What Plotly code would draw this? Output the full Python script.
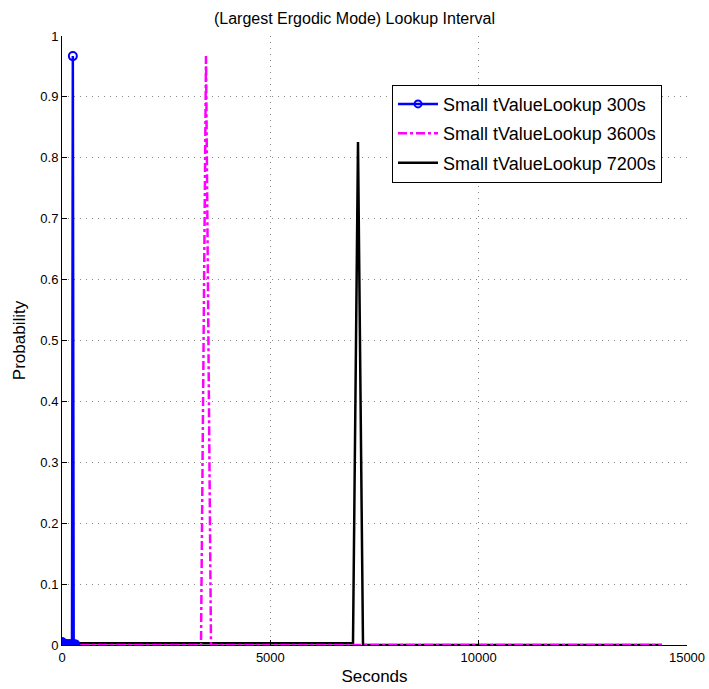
import plotly.graph_objects as go

# Data
blue_x = [0, 20, 40, 60, 80, 100, 120, 140, 160, 180, 200, 220, 240, 260, 280, 300, 320]
blue_y = [0.005, 0.002, 0.002, 0.002, 0.001, 0.001, 0.001, 0.001, 0.001, 0.001, 0.001, 0.001, 0.001, 0.967, 0.001, 0.001, 0.001]

mag_x = [0, 3336, 3456, 3576, 14400]
mag_y = [0.0, 0.0, 0.967, 0.0, 0.0]

blk_x = [0, 6984, 7104, 7224, 14400]
blk_y = [0.003, 0.003, 0.826, 0.0, 0.0]

series_names = ["Small tValueLookup 300s", "Small tValueLookup 3600s", "Small tValueLookup 7200s"]
x_ticks = [0, 5000, 10000, 15000]
y_ticks = [0, 0.1, 0.2, 0.3, 0.4, 0.5, 0.6, 0.7, 0.8, 0.9, 1]
y_tick_labels = ["0", "0.1", "0.2", "0.3", "0.4", "0.5", "0.6", "0.7", "0.8", "0.9", "1"]

fig = go.Figure()
fig.add_trace(go.Scatter(x=blk_x, y=blk_y, mode="lines", name=series_names[2],
                         line=dict(color="black", width=2.5), showlegend=False))
fig.add_trace(go.Scatter(x=mag_x, y=mag_y, mode="lines", name=series_names[1],
                         line=dict(color="#ff00ff", width=2.5, dash="dashdot"), showlegend=False))
fig.add_trace(go.Scatter(x=blue_x, y=blue_y, mode="lines+markers", name=series_names[0],
                         line=dict(color="#0000ff", width=2.5),
                         marker=dict(symbol="circle-open", size=8, color="#0000ff", line=dict(width=2)),
                         showlegend=False))
# legend entries in original order
fig.add_trace(go.Scatter(x=[None], y=[None], mode="lines+markers", name=series_names[0],
                         legendgroup="a",
                         line=dict(color="#0000ff", width=2.5),
                         marker=dict(symbol="circle-open", size=7, color="#0000ff", line=dict(width=2))))
fig.add_trace(go.Scatter(x=[None], y=[None], mode="lines", name=series_names[1],
                         legendgroup="b",
                         line=dict(color="#ff00ff", width=2.5, dash="dashdot")))
fig.add_trace(go.Scatter(x=[None], y=[None], mode="lines", name=series_names[2],
                         legendgroup="c",
                         line=dict(color="black", width=2.5)))

axis_common = dict(
    showline=True, linecolor="black", linewidth=1, mirror=False,
    ticks="inside", ticklen=5, tickcolor="black",
    showgrid=True, gridcolor="#888888", griddash="1px,5px", gridwidth=1,
    zeroline=False, tickfont=dict(size=13, color="black"), automargin=False,
)

fig.update_layout(
    width=709, height=689,
    margin=dict(l=62, r=22, t=36, b=44),
    paper_bgcolor="white", plot_bgcolor="white",
    font=dict(family="Liberation Sans, Arial, sans-serif", color="black"),
    title=dict(text="(Largest Ergodic Mode) Lookup Interval", x=0.5, xanchor="center",
               y=0.974, yanchor="middle", font=dict(size=16)),
    xaxis=dict(range=[0, 15000], tickvals=x_ticks, ticktext=[str(v) for v in x_ticks],
               title=dict(text="Seconds", font=dict(size=17), standoff=6), **axis_common),
    yaxis=dict(range=[0, 1], tickvals=y_ticks, ticktext=y_tick_labels,
               title=dict(text="Probability", font=dict(size=17), standoff=10), **axis_common),
    legend=dict(x=0.528, y=0.92, xanchor="left", yanchor="top",
                bgcolor="white", bordercolor="black", borderwidth=1,
                font=dict(size=18), tracegroupgap=3, itemwidth=40),
)

fig.write_html("out.html")
